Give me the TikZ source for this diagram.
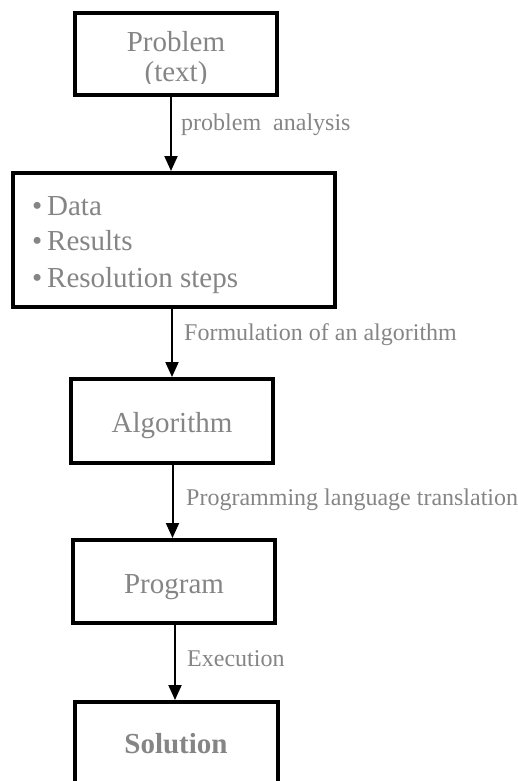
\documentclass[tikz,border=0pt]{standalone}
\usepackage{fontspec}
\setmainfont{Liberation Serif}
\usetikzlibrary{arrows.meta}
\definecolor{txtgray}{HTML}{858585}
\tikzset{
  box/.style={draw=black, line width=4pt, fill=white, inner sep=0pt},
  boxtext/.style={text=txtgray, font=\fontsize{29}{34}\selectfont, inner sep=0pt, anchor=base},
  itemtext/.style={text=txtgray, font=\fontsize{29}{34}\selectfont, inner sep=0pt, anchor=base west},
  lbl/.style={text=txtgray, font=\fontsize{24}{28}\selectfont, inner sep=0pt, anchor=base west},
  arr/.style={draw=black, line width=2pt, -{Triangle[width=13pt,length=15pt]}}
}
\begin{document}
\begin{tikzpicture}[x=1pt, y=-1pt]
\useasboundingbox (0,0) rectangle (518,781);
\clip (0,0) rectangle (518,781);
% boxes
\node[box, minimum width=202pt, minimum height=82pt] (b1) at (176,54) {};
\node[box, minimum width=322pt, minimum height=134pt] (b2) at (174,240) {};
\node[box, minimum width=202pt, minimum height=84pt] (b3) at (172,421) {};
\node[box, minimum width=202pt, minimum height=83pt] (b4) at (174,581.5) {};
\node[box, minimum width=203pt, minimum height=110pt] (b5) at (176.5,757) {};
% box texts
\node[boxtext] (t1) at (176,52) {Problem};
\begin{scope}
\clip (0,0) rectangle (518,84);
\node[boxtext] (t1b) at (176,82) {(text)};
\end{scope}
\node[itemtext] (i1) at (32,215) {•\,Data};
\node[itemtext] (i2) at (32,250) {•\,Results};
\node[itemtext] (i3) at (32,287) {•\,Resolution steps};
\node[boxtext] (t3) at (172,432) {Algorithm};
\node[boxtext] (t4) at (174,593) {Program};
\node[boxtext, font=\fontsize{29}{34}\selectfont\bfseries] (t5) at (176,753) {Solution};
% arrows
\draw[arr] ([xshift=-5pt]b1.south) -- ([xshift=-3pt]b2.north);
\draw[arr] ([xshift=-2pt]b2.south) -- (b3.north);
\draw[arr] ([xshift=0.5pt]b3.south) -- ([xshift=-1.5pt]b4.north);
\draw[arr] ([xshift=1pt]b4.south) -- ([xshift=-1.5pt]b5.north);
% labels
\node[lbl] (l1) at (181,130) {problem\hspace{0.5em}analysis};
\node[lbl] (l2) at (184,340) {Formulation of an algorithm};
\node[lbl] (l3) at (186,505) {Programming language translation};
\node[lbl] (l4) at (187,666) {Execution};
\end{tikzpicture}
\end{document}
